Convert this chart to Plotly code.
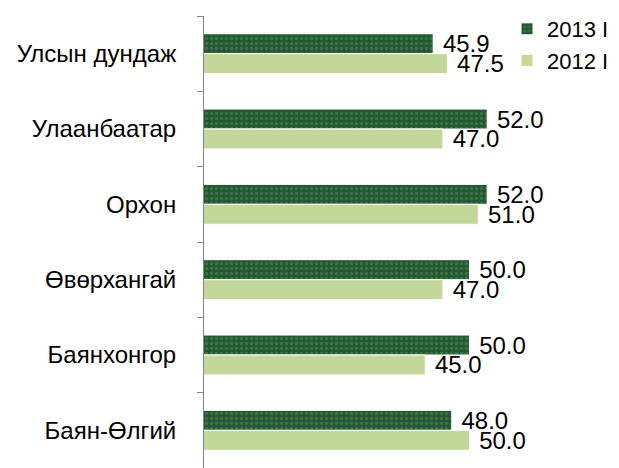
import plotly.graph_objects as go

# ── Data ──────────────────────────────────────────────────────────────────────
CATEGORIES = ["Улсын дундаж", "Улаанбаатар", "Орхон", "Өвөрхангай", "Баянхонгор", "Баян-Өлгий"]
VALUES_2013 = [45.9, 52.0, 52.0, 50.0, 50.0, 48.0]
VALUES_2012 = [47.5, 47.0, 51.0, 47.0, 45.0, 50.0]
SERIES_NAMES = ["2013 I", "2012 I"]

# ── Theme ─────────────────────────────────────────────────────────────────────
DARK_GREEN  = "#24592f"
TEXTURE     = "#4f8a5c"
LIGHT_GREEN = "#c4d79b"
AXIS_GREY   = "#868686"
FONT        = "Liberation Sans, Arial, sans-serif"

# the page body keeps its default 8px margin, so the figure is 8px smaller
PAGE_PAD = 8

fig = go.Figure()

fig.add_trace(go.Bar(
    y=CATEGORIES,
    x=VALUES_2013,
    name=SERIES_NAMES[0],
    orientation="h",
    marker=dict(
        color=DARK_GREEN,
        line=dict(color="white", width=1),
        pattern=dict(shape=".", fgcolor=TEXTURE, size=5, solidity=0.35),
    ),
    text=[f" {v:.1f}" for v in VALUES_2013],
    textposition="outside",
    textfont=dict(size=24, color="black", family=FONT),
    constraintext="none",
    cliponaxis=False,
))

fig.add_trace(go.Bar(
    y=CATEGORIES,
    x=VALUES_2012,
    name=SERIES_NAMES[1],
    orientation="h",
    marker=dict(color=LIGHT_GREEN, line=dict(color="white", width=1)),
    text=[f" {v:.1f}" for v in VALUES_2012],
    textposition="outside",
    textfont=dict(size=24, color="black", family=FONT),
    constraintext="none",
    cliponaxis=False,
))

fig.update_layout(
    width=619 - PAGE_PAD,
    height=468 - PAGE_PAD,
    paper_bgcolor="white",
    plot_bgcolor="white",
    font=dict(family=FONT, size=24, color="black"),
    barmode="group",
    bargap=0.47,
    bargroupgap=0,
    margin=dict(l=204 - PAGE_PAD, r=61, t=16 - PAGE_PAD, b=0, autoexpand=False),
    showlegend=True,
    legend=dict(
        xref="container", yref="container",
        x=499 / 611, y=1.01, xanchor="left", yanchor="top",
        bgcolor="rgba(0,0,0,0)",
        font=dict(size=22, family=FONT),
        itemwidth=30,
        tracegroupgap=0,
    ),
    xaxis=dict(range=[20, 60], visible=False, showgrid=False, zeroline=False),
    yaxis=dict(
        autorange="reversed",
        showline=True, linecolor=AXIS_GREY, linewidth=1,
        ticks="outside", tickson="boundaries", ticklen=6, tickcolor=AXIS_GREY,
        ticklabelstandoff=22,
        showgrid=False,
        tickfont=dict(size=24, family=FONT),
    ),
)

fig.write_html("out.html")
